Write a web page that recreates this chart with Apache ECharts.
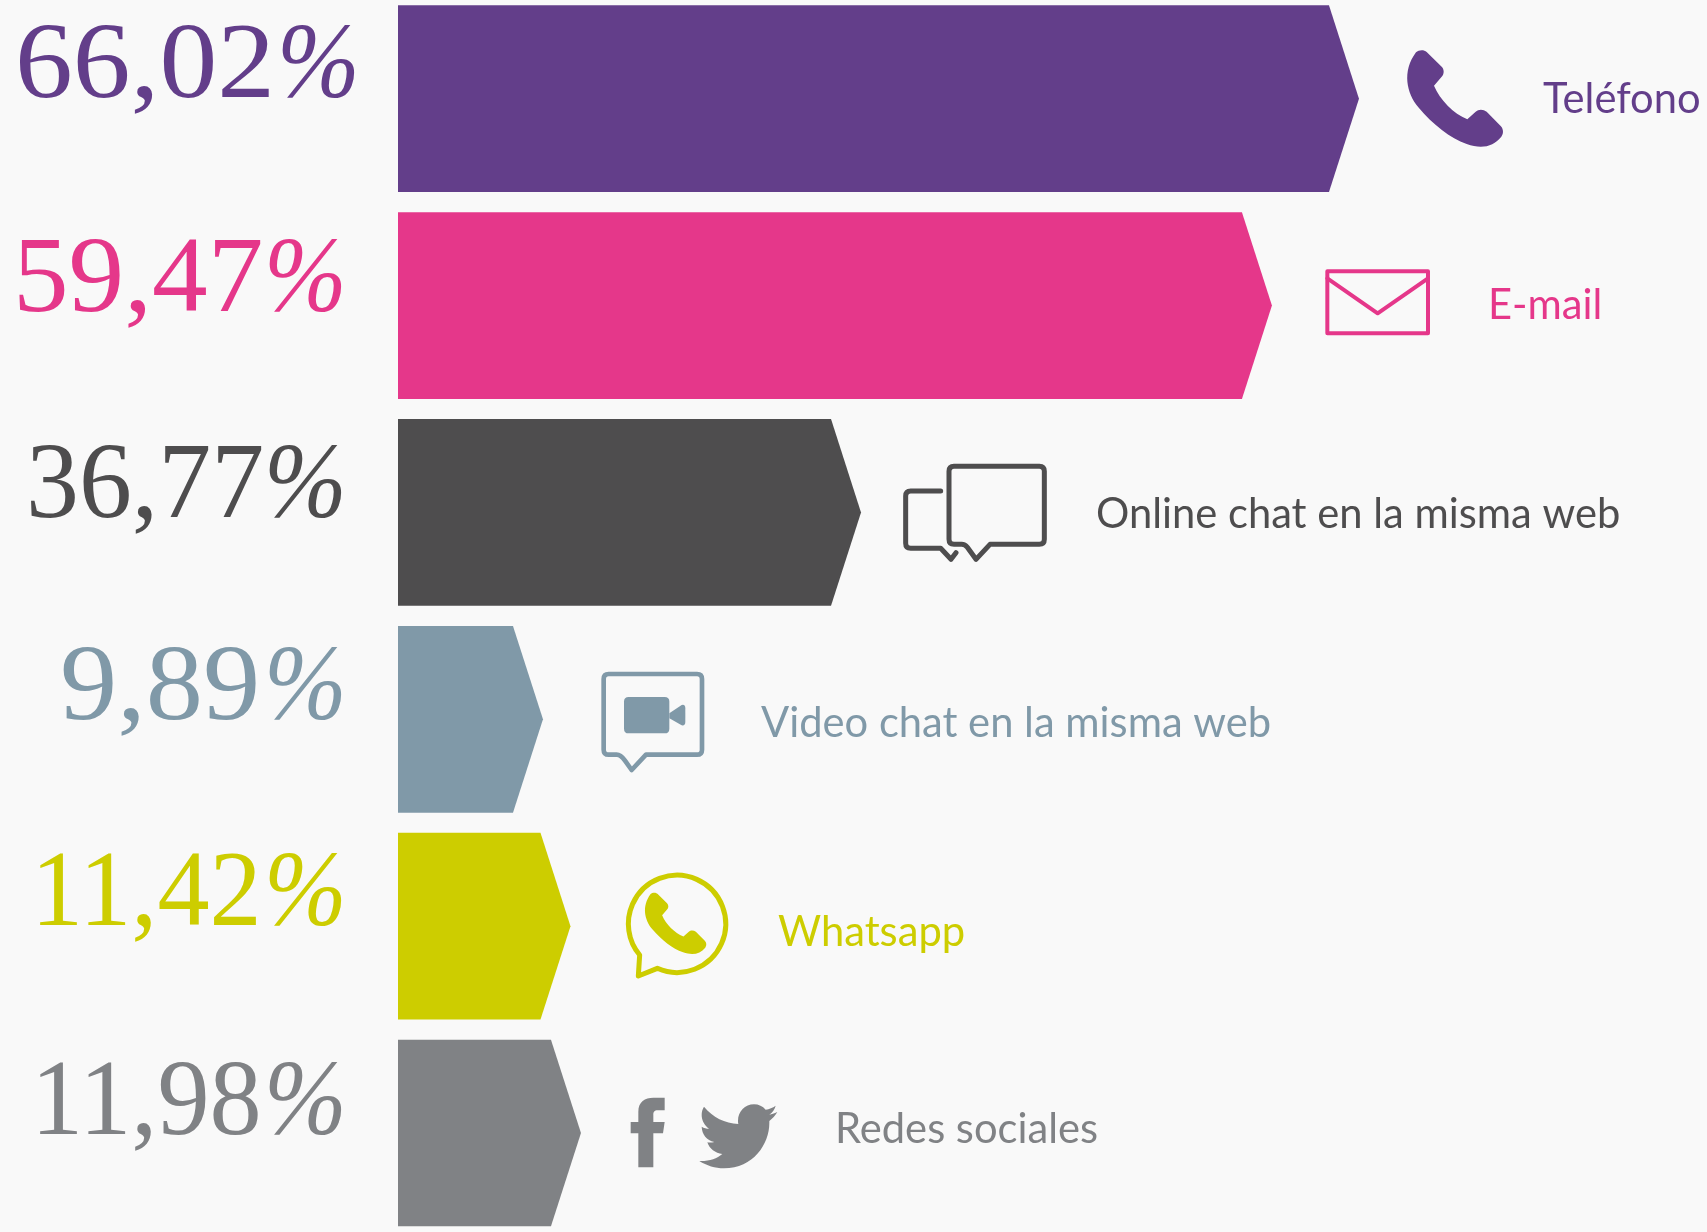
<!DOCTYPE html>
<html>
<head>
<meta charset="utf-8">
<style>html,body{margin:0;padding:0;background:#f9f9f9}#c{width:1707px;height:1232px}</style>
<script src="https://cdn.jsdelivr.net/npm/echarts@6/dist/echarts.min.js"></script>
</head>
<body>
<div id="c"></div>
<script>
// Data
const categories = ['Teléfono', 'E-mail', 'Online chat en la misma web', 'Video chat en la misma web', 'Whatsapp', 'Redes sociales'];
const shownValues = ['66,02', '59,47', '36,77', '9,89', '11,42', '11,98'];
// Drawn length of every arrow (tip): the reference does not draw strictly to scale
const barLengths = [66.02, 60.04, 31.81, 9.96, 11.85, 12.57];
const colors = ['#633e8a', '#e5378a', '#4e4d4e', '#8099a8', '#cdcd00', '#808285'];

// Layout of the text and the icons
const valueLeft = [15, 13, 26, 60, 31, 31];
const valueStretch = [1.07, 1.03, 0.98, 1.06, 0.965, 0.965];
const percentLeft = [277, 264, 264, 264, 264, 264];
const valueBaseline = [98, 312, 518, 720, 926, 1135];
const labelLeft = [1543, 1488, 1096, 761, 778, 835];
const labelBaseline = [114, 320, 529, 738, 947, 1144];
const ARROW = 30, BAR_HEIGHT = 186.7, VALUE_SIZE = 108, LABEL_SIZE = 41.7;

const phone = 'M378,157 C386,149 402,148 410,156 L455,200 C463,208 463,222 455,230 L432,257 C450,300 490,340 532,358 L557,335 C565,327 580,327 590,335 L632,378 C640,386 642,400 634,410 C610,440 575,448 530,432 C480,415 430,375 385,322 C350,280 335,215 378,157 Z';
const icons = [
  {x: 1290, y: 0, parts: [{d: phone, fill: true}]},
  {x: 1290, y: 0, parts: [{d: 'M112,814 L414,814 L414,1000 L112,1000 Z', w: 12}, {d: 'M112,835 L263,940 L414,835', w: 12}]},
  {x: 880, y: 440, parts: [
    {d: 'M222,79 L478,79 Q493,79 493,94 L493,298 Q493,313 478,313 L330,313 L288,358 L262,322 Q255,313 245,313 L222,313 Q207,313 207,298 L207,94 Q207,79 222,79 Z', w: 15},
    {d: 'M182,153 L92,153 Q77,153 77,168 L77,310 Q77,325 92,325 L182,325 L213,358 L228,338', w: 15}]},
  {x: 580, y: 650, parts: [
    {d: 'M86,72 L351,72 Q366,72 366,87 L366,299 Q366,314 351,314 L198,314 L155,360 L135,332 Q122,314 110,314 L86,314 Q71,314 71,299 L71,87 Q71,72 86,72 Z', w: 14},
    {d: 'M146,141 L254,141 Q268,141 268,155 L268,236 Q268,250 254,250 L146,250 Q132,250 132,236 L132,155 Q132,141 146,141 Z', fill: true},
    {d: 'M268,190 L305,165 Q316,162 316,175 L316,215 Q316,228 305,226 L268,205 Z', fill: true}]},
  {x: 579, y: 650, parts: [
    {d: 'M182,915 L178,978 L235,955 A146,146 0 1 0 182,915 Z', w: 15},
    {d: phone, fill: true, box: {x: 198, y: 728, width: 184, height: 184}}]},
  {x: 610, y: 1080, parts: [
    {d: 'M85,262 L85,160 L62,160 L62,126 L85,126 L85,95 C85,65 105,53 130,53 L164,53 L164,91 L143,91 C133,91 130,96 130,105 L130,126 L164,126 L159,160 L130,160 L130,262 Z', fill: true},
    {d: 'M502,96 C492,101 485,103 478,104 C487,98 494,88 497,77 C488,83 478,87 467,89 C458,79 446,73 432,73 C405,73 384,95 384,122 C384,126 384,129 385,132 C345,130 308,112 282,80 C277,88 275,96 275,105 C275,122 284,137 297,146 C289,146 282,144 275,140 C276,163 290,181 313,186 C305,188 297,188 292,187 C298,206 316,220 337,222 C320,236 298,244 268,243 C290,257 315,265 342,265 C430,265 478,192 478,129 C478,127 478,125 478,123 C487,116 496,107 502,96 Z', fill: true}]}
];

function renderRow(params, api) {
  const i = params.dataIndex;
  const color = colors[i];
  const start = api.coord([0, i]);
  const tip = api.coord([api.value(0), i]);
  const top = tip[1] - BAR_HEIGHT / 2, bottom = tip[1] + BAR_HEIGHT / 2;
  const shoulder = tip[0] - ARROW;
  const icon = icons[i];
  const valueY = valueBaseline[i] - VALUE_SIZE * 0.27;
  return {
    type: 'group',
    children: [
      {type: 'polygon', shape: {points: [[start[0], top], [shoulder, top], [tip[0], tip[1]], [shoulder, bottom], [start[0], bottom]]}, style: {fill: color}},
      {type: 'text', x: valueLeft[i], y: valueY, scaleX: valueStretch[i], style: {text: shownValues[i], x: 0, y: 0, textAlign: 'left', textVerticalAlign: 'middle', fill: color, font: VALUE_SIZE + 'px "Liberation Serif"'}},
      {type: 'text', x: percentLeft[i], y: valueY, scaleX: 0.92, style: {text: '%', x: 0, y: 0, textAlign: 'left', textVerticalAlign: 'middle', fill: color, font: 'italic ' + VALUE_SIZE + 'px "Liberation Serif"'}},
      {type: 'text', style: {text: categories[i], x: labelLeft[i], y: labelBaseline[i] - LABEL_SIZE * 0.34, textAlign: 'left', textVerticalAlign: 'middle', fill: color, font: LABEL_SIZE + 'px Lato'}},
      {type: 'group', x: icon.x, y: icon.y, scaleX: 1 / 3, scaleY: 1 / 3, children: icon.parts.map(function (p) {
        const shape = {pathData: p.d};
        if (p.box) { Object.assign(shape, p.box); shape.layout = 'cover'; }
        return {type: 'path', shape: shape, style: p.fill ? {fill: color} : {fill: 'none', stroke: color, lineWidth: p.w, lineJoin: 'round', lineCap: 'round'}};
      })}
    ]
  };
}

const chart = echarts.init(document.getElementById('c'), null, {renderer: 'canvas'});
chart.setOption({
  animation: false,
  backgroundColor: '#f9f9f9',
  tooltip: {show: false},
  grid: {left: 398, top: 98.7, width: 1309, height: 1034.3, containLabel: false},
  xAxis: {type: 'value', min: 0, max: 89.93, show: false},
  yAxis: {type: 'category', data: categories, inverse: true, boundaryGap: false, show: false},
  series: [{
    type: 'custom',
    renderItem: renderRow,
    encode: {x: 0, y: 1},
    clip: false,
    data: barLengths.map(function (v, i) { return [v, i]; })
  }]
});
</script>
</body>
</html>
